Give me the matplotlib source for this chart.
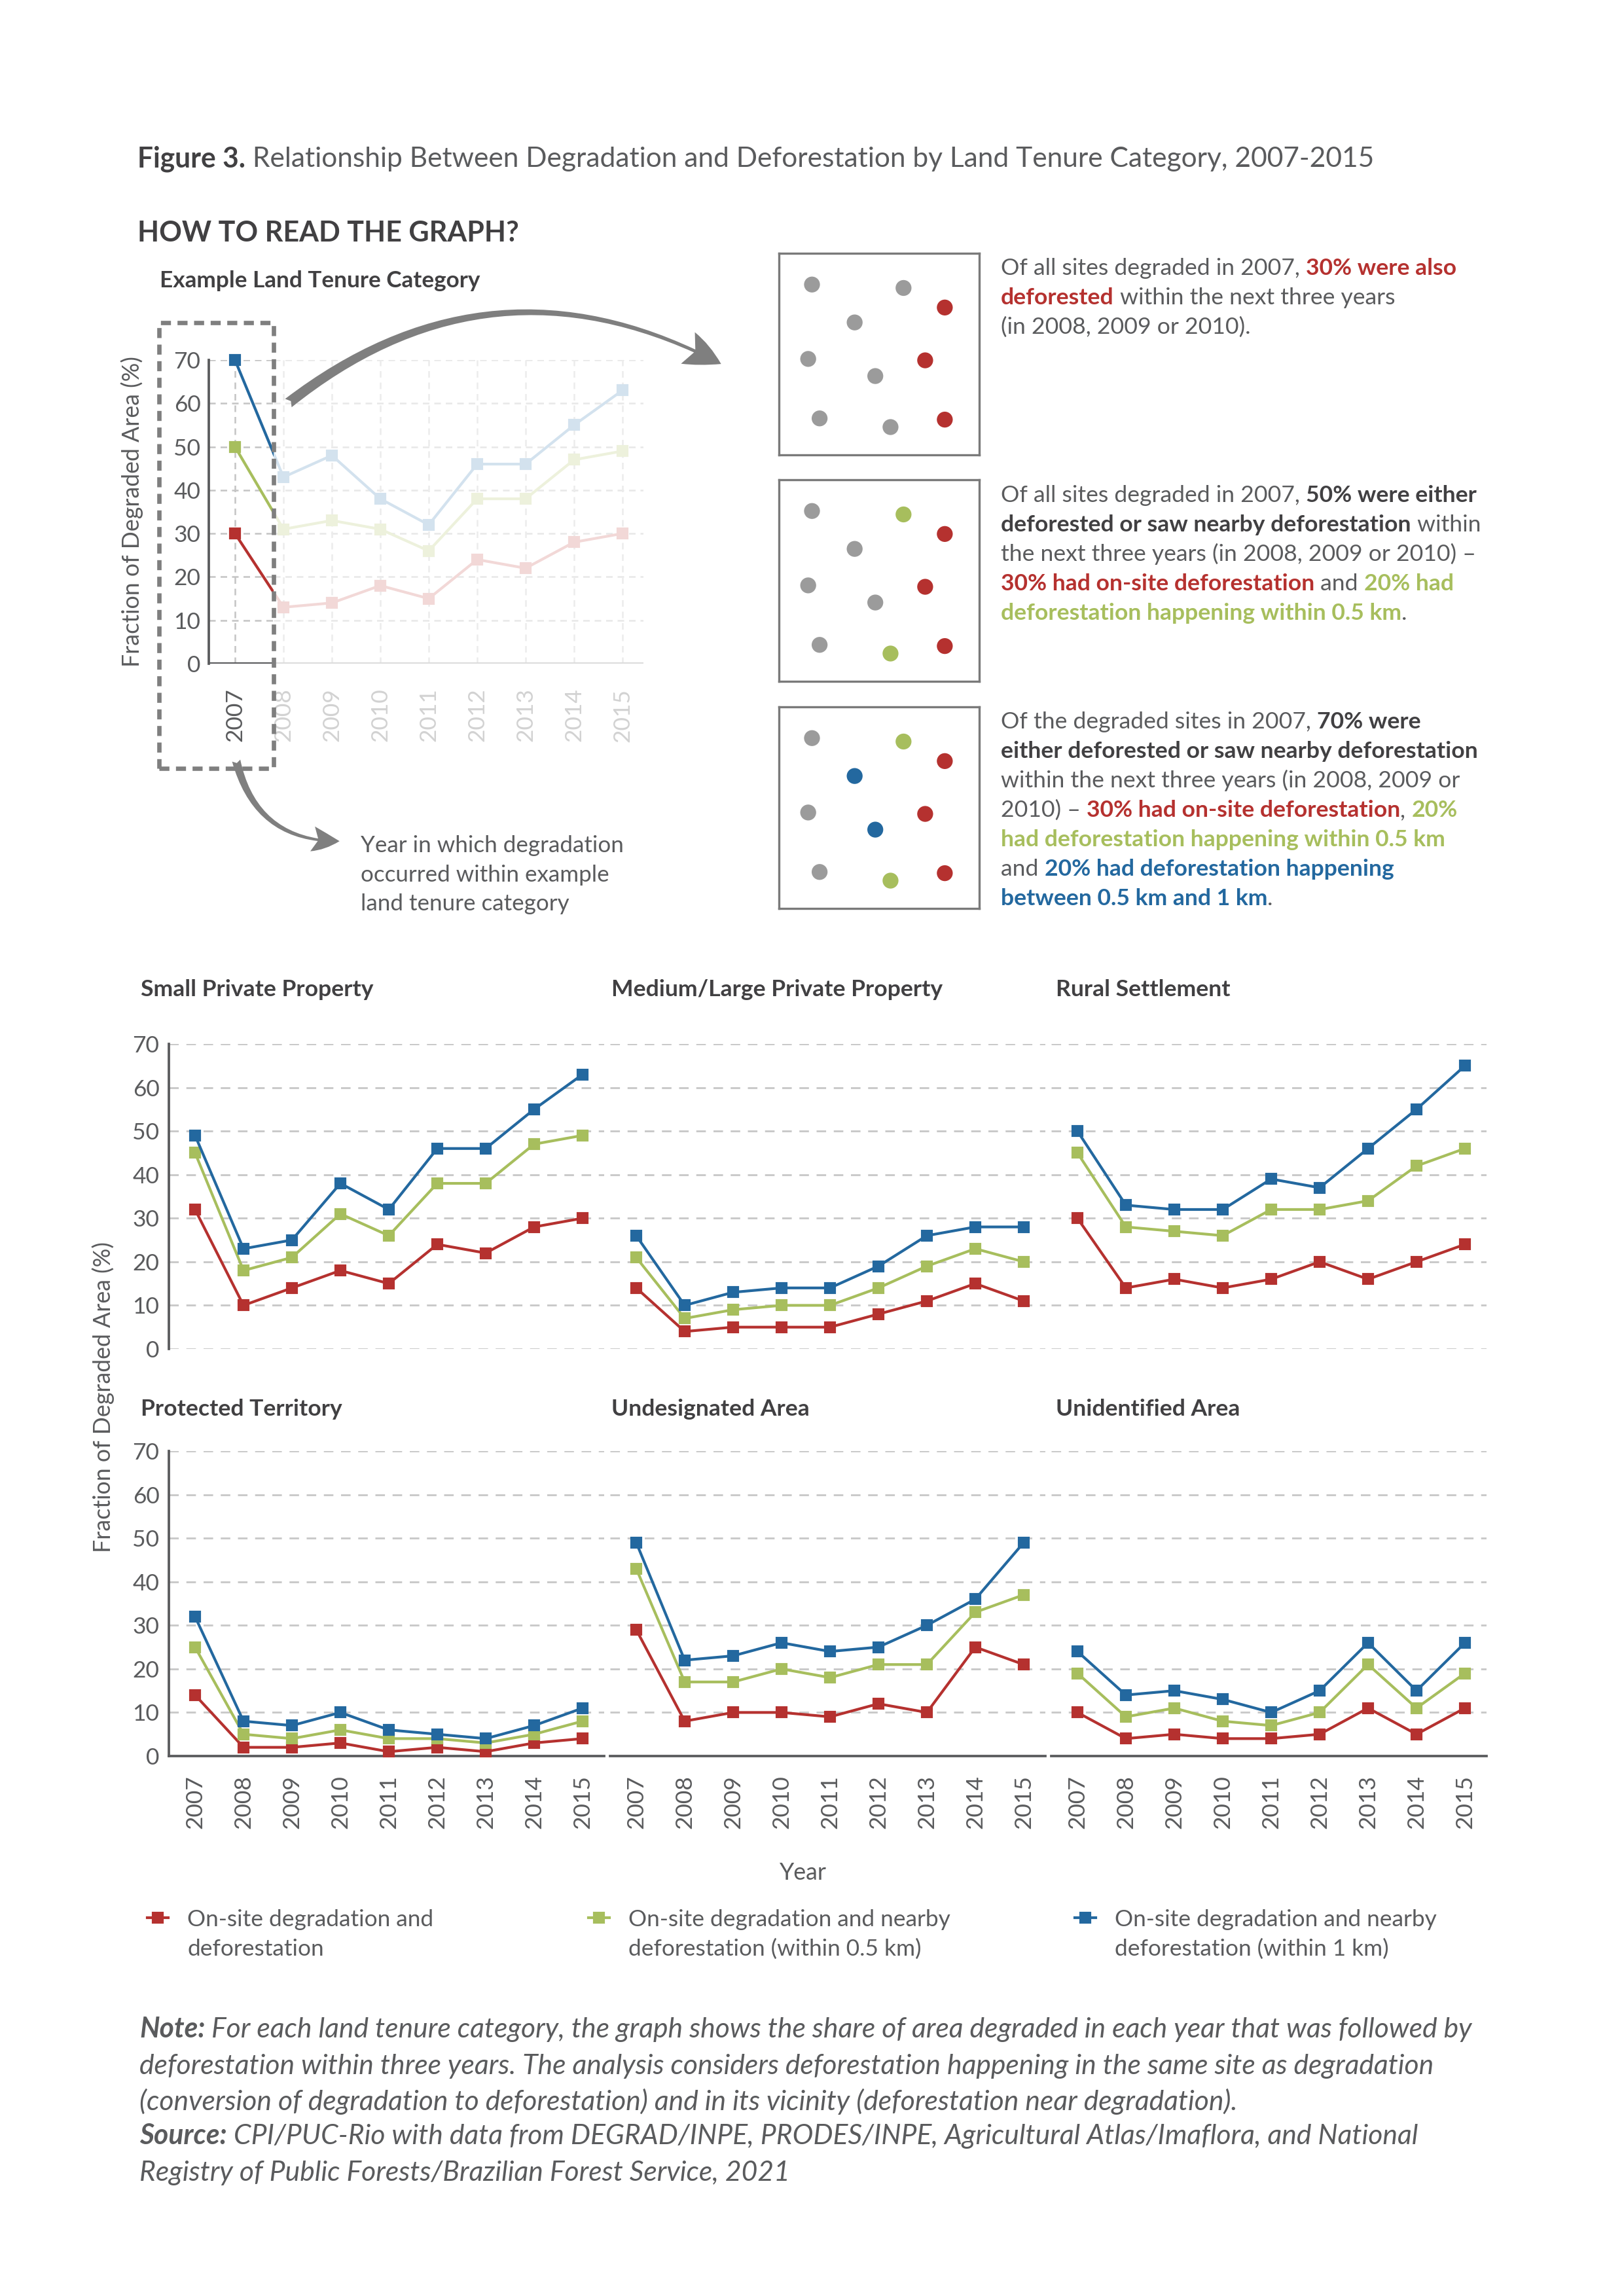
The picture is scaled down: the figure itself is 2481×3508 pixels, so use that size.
import matplotlib
matplotlib.use("Agg")
import matplotlib.pyplot as plt
from matplotlib.font_manager import FontProperties
from matplotlib.patches import FancyArrowPatch, Rectangle
from matplotlib.lines import Line2D

# ---------------- data ----------------
years = [2007, 2008, 2009, 2010, 2011, 2012, 2013, 2014, 2015]
year_labels = [str(y) for y in years]
y_ticks = [0, 10, 20, 30, 40, 50, 60, 70]

example_onsite = [30, 13, 14, 18, 15, 24, 22, 28, 30]
example_05km = [50, 31, 33, 31, 26, 38, 38, 47, 49]
example_1km = [70, 43, 48, 38, 32, 46, 46, 55, 63]

category_names = ["Small Private Property", "Medium/Large Private Property", "Rural Settlement",
                  "Protected Territory", "Undesignated Area", "Unidentified Area"]

small_onsite = [32, 10, 14, 18, 15, 24, 22, 28, 30]
small_05km = [45, 18, 21, 31, 26, 38, 38, 47, 49]
small_1km = [49, 23, 25, 38, 32, 46, 46, 55, 63]
medium_onsite = [14, 4, 5, 5, 5, 8, 11, 15, 11]
medium_05km = [21, 7, 9, 10, 10, 14, 19, 23, 20]
medium_1km = [26, 10, 13, 14, 14, 19, 26, 28, 28]
rural_onsite = [30, 14, 16, 14, 16, 20, 16, 20, 24]
rural_05km = [45, 28, 27, 26, 32, 32, 34, 42, 46]
rural_1km = [50, 33, 32, 32, 39, 37, 46, 55, 65]
protected_onsite = [14, 2, 2, 3, 1, 2, 1, 3, 4]
protected_05km = [25, 5, 4, 6, 4, 4, 3, 5, 8]
protected_1km = [32, 8, 7, 10, 6, 5, 4, 7, 11]
undesignated_onsite = [29, 8, 10, 10, 9, 12, 10, 25, 21]
undesignated_05km = [43, 17, 17, 20, 18, 21, 21, 33, 37]
undesignated_1km = [49, 22, 23, 26, 24, 25, 30, 36, 49]
unidentified_onsite = [10, 4, 5, 4, 4, 5, 11, 5, 11]
unidentified_05km = [19, 9, 11, 8, 7, 10, 21, 11, 19]
unidentified_1km = [24, 14, 15, 13, 10, 15, 26, 15, 26]

series_labels = [["On-site degradation and", "deforestation"],
                 ["On-site degradation and nearby", "deforestation (within 0.5 km)"],
                 ["On-site degradation and nearby", "deforestation (within 1 km)"]]

# illustrative site diagram (fractions of box)
dot_x = [0.165, 0.622, 0.378, 0.146, 0.481, 0.203, 0.557, 0.828, 0.730, 0.828]
dot_y = [0.155, 0.172, 0.343, 0.524, 0.609, 0.819, 0.862, 0.269, 0.531, 0.825]
dots_panel1 = ["g", "g", "g", "g", "g", "g", "g", "r", "r", "r"]
dots_panel2 = ["g", "G", "g", "g", "g", "g", "G", "r", "r", "r"]
dots_panel3 = ["g", "G", "b", "g", "b", "g", "G", "r", "r", "r"]

# ---------------- style ----------------
W, H = 2481, 3508
GRAY_TXT = '#5a5b5d'
DARK_TXT = '#414042'
RED = '#b5312f'
GREEN = '#a7be5d'
BLUE = '#23689f'
FADED = ['#f2d8d7', '#edf1dc', '#d3e2ee']
COLORS = [RED, GREEN, BLUE]
DOTCOL = {"g": '#9b9b9b', "r": RED, "G": GREEN, "b": BLUE}
FAM = ['Lato', 'DejaVu Sans']
REG = 'normal'

fig = plt.figure(figsize=(W / 300, H / 300), dpi=300)
fig.patch.set_facecolor('white')
R = fig.canvas.get_renderer()


def fx(x):
    return x / W


def fy(y):
    return 1 - y / H


def rect(left, top, w, h):
    return [left / W, 1 - (top + h) / H, w / W, h / H]


def fprop(size, weight=REG, style='normal'):
    return FontProperties(family=FAM, size=size, weight=weight, style=style)


def adv(s, size, weight=REG, style='normal'):
    p = fprop(size, weight, style)
    w1 = R.get_text_width_height_descent(s + '|', p, ismath=False)[0]
    w0 = R.get_text_width_height_descent('|', p, ismath=False)[0]
    return w1 - w0


def P(s, c=GRAY_TXT, wt=REG, st='normal'):
    return (s, c, wt, st)


def fit(parts, target, ref=10.0):
    w = sum(adv(s, ref, wt, st) for s, c, wt, st in parts)
    return ref * target / w


def rich(x, yc, parts, size):
    em = size * 300 / 72
    yb = yc + 0.36 * em
    for s, c, wt, st in parts:
        fig.text(fx(x), fy(yb), s, fontsize=size, color=c, fontweight=wt, fontstyle=st,
                 family=FAM, ha='left', va='baseline')
        x += adv(s, size, wt, st)


# ---------------- headings ----------------
title_parts = [P("Figure 3.", DARK_TXT, 'bold'),
               P(" Relationship Between Degradation and Deforestation by Land Tenure Category, 2007-2015", GRAY_TXT)]
rich(210, 240, title_parts, fit(title_parts, 1892))
how = [P("HOW TO READ THE GRAPH?", DARK_TXT, 'bold')]
rich(210, 353, how, fit(how, 583))
exl = [P("Example Land Tenure Category", DARK_TXT, 'bold')]
rich(244, 426, exl, fit(exl, 489))

tick_size = fit([P("70")], 41)
ylab_size = fit([P("Fraction of Degraded Area (%)")], 476)

# ---------------- example chart ----------------
PX = 74.0
x_lo = 2007 - 40 / PX
x_hi = 2007 + (983 - 359) / PX
box_edge = 2007 + (418 - 359) / PX
ex = fig.add_axes(rect(319, 550, 664, 464))
ex.set_xlim(x_lo, x_hi)
ex.set_ylim(0, 70)
for sp in ['top', 'right', 'bottom']:
    ex.spines[sp].set_visible(False)
ex.spines['left'].set_color(GRAY_TXT)
ex.spines['left'].set_linewidth(0.9)
ex.tick_params(length=0)
for yv in y_ticks[1:]:
    ex.hlines(yv, x_lo, box_edge, color='#c4c4c4', lw=0.6, ls=(0, (4, 3)), zorder=0)
    ex.hlines(yv, box_edge, x_hi, color='#e8e8e8', lw=0.6, ls=(0, (4, 3)), zorder=0)
for i, yr in enumerate(years):
    ex.vlines(yr, 0, 70, color='#c4c4c4' if i == 0 else '#ececec', lw=0.6, ls=(0, (4, 3)), zorder=0)
ex.hlines(0, x_lo, box_edge, color=GRAY_TXT, lw=1.0, zorder=1)
ex.hlines(0, box_edge, x_hi, color='#dcdcdc', lw=1.0, zorder=1)
ex_series = [example_onsite, example_05km, example_1km]
for k, vals in enumerate(ex_series):
    ex.plot(years, vals, color=FADED[k], lw=1.0, marker='s', ms=3.4, clip_on=False, zorder=2)
    seg, = ex.plot(years[:2], vals[:2], color=COLORS[k], lw=1.0, zorder=3)
    seg.set_clip_path(Rectangle((x_lo, -10), box_edge - x_lo, 100, transform=ex.transData))
    ex.plot(years[:1], vals[:1], color=COLORS[k], marker='s', ms=3.4, ls='none', clip_on=False, zorder=4)
ex.set_yticks(y_ticks)
ex.set_yticklabels([str(v) for v in y_ticks], fontsize=tick_size, color=GRAY_TXT, family=FAM, fontweight=REG)
ex.tick_params(axis='y', pad=3)
ex.set_xticks(years)
ex.set_xticklabels(year_labels, rotation=90, fontsize=tick_size, family=FAM, fontweight=REG)
ex.tick_params(axis='x', pad=9)
for i, lab in enumerate(ex.get_xticklabels()):
    lab.set_color(GRAY_TXT if i == 0 else '#d2d2d2')
fig.text(fx(202), fy(782), "Fraction of Degraded Area (%)", rotation=90, ha='center', va='center',
         fontsize=ylab_size, color=GRAY_TXT, family=FAM, fontweight=REG)

# dashed highlight box
fig.add_artist(Rectangle((fx(243), fy(1174)), (418 - 243) / W, (1174 - 493) / H, transform=fig.transFigure,
                         fill=False, ec='#7f7f7f', lw=1.6, ls=(0, (2.3, 1.5)), zorder=10))

# arrows
big = FancyArrowPatch((fx(434), fy(621)), (fx(1109), fy(560)), transform=fig.transFigure,
                      connectionstyle="arc3,rad=-0.33",
                      arrowstyle="fancy,head_length=0.45,head_width=0.42,tail_width=0.13",
                      mutation_scale=30, color='#7f7f7f', lw=0, zorder=10)
fig.add_artist(big)
small = FancyArrowPatch((fx(359), fy(1154)), (fx(527), fy(1285)), transform=fig.transFigure,
                        connectionstyle="arc3,rad=0.42",
                        arrowstyle="fancy,head_length=0.45,head_width=0.42,tail_width=0.14",
                        mutation_scale=22, color='#7f7f7f', lw=0, zorder=10)
fig.add_artist(small)

yw = [P("Year in which degradation")]
yw_size = fit(yw, 400)
rich(551, 1289, yw, yw_size)
rich(551, 1334, [P("occurred within example")], yw_size)
rich(551, 1378, [P("land tenure category")], yw_size)

# ---------------- site diagrams ----------------
box_tops = [387, 733, 1080]
for top, cols in zip(box_tops, [dots_panel1, dots_panel2, dots_panel3]):
    bx = fig.add_axes(rect(1190, top, 306, 308))
    bx.set_xlim(0, 1)
    bx.set_ylim(1, 0)
    bx.set_xticks([])
    bx.set_yticks([])
    for sp in bx.spines.values():
        sp.set_color('#7a7a7a')
        sp.set_linewidth(0.8)
    bx.scatter(dot_x, dot_y, s=34, c=[DOTCOL[c] for c in cols], linewidths=0)

b1 = [[P("Of all sites degraded in 2007, "), P("30% were also", RED, 'bold')],
      [P("deforested", RED, 'bold'), P(" within the next three years")],
      [P("(in 2008, 2009 or 2010).")]]
b2 = [[P("Of all sites degraded in 2007, "), P("50% were either", DARK_TXT, 'bold')],
      [P("deforested or saw nearby deforestation", DARK_TXT, 'bold'), P(" within")],
      [P("the next three years (in 2008, 2009 or 2010) \u2013")],
      [P("30% had on-site deforestation", RED, 'bold'), P(" and "), P("20% had", GREEN, 'bold')],
      [P("deforestation happening within 0.5 km", GREEN, 'bold'), P(".")]]
b3 = [[P("Of the degraded sites in 2007, "), P("70% were", DARK_TXT, 'bold')],
      [P("either deforested or saw nearby deforestation", DARK_TXT, 'bold')],
      [P("within the next three years (in 2008, 2009 or")],
      [P("2010) \u2013 "), P("30% had on-site deforestation", RED, 'bold'), P(", "), P("20%", GREEN, 'bold')],
      [P("had deforestation happening within 0.5 km", GREEN, 'bold')],
      [P("and "), P("20% had deforestation happening", BLUE, 'bold')],
      [P("between 0.5 km and 1 km", BLUE, 'bold'), P(".")]]
box_size = fit(b1[0], 695)
for lines, y0 in zip([b1, b2, b3], [407, 754, 1100]):
    for j, ln in enumerate(lines):
        rich(1529, y0 + j * 45, ln, box_size)

# ---------------- small multiples ----------------
cat_series = [[small_onsite, small_05km, small_1km],
              [medium_onsite, medium_05km, medium_1km],
              [rural_onsite, rural_05km, rural_1km],
              [protected_onsite, protected_05km, protected_1km],
              [undesignated_onsite, undesignated_05km, undesignated_1km],
              [unidentified_onsite, unidentified_05km, unidentified_1km]]
X2007 = [298, 972, 1646]
ROW_TOP = [1595, 2217]
TITLE_Y = [1509, 2150]
TITLE_X = [215, 934, 1613]
ptitle_size = fit([P("Medium/Large Private Property", DARK_TXT, 'bold')], 505)

for i, name in enumerate(category_names):
    r, c = divmod(i, 3)
    ax = fig.add_axes(rect(X2007[c] - 40, ROW_TOP[r], 665, 466))
    ax.set_xlim(2007 - 40 / PX, 2007 + 625 / PX)
    ax.set_ylim(0, 70)
    ax.set_axisbelow(True)
    for sp in ['top', 'right', 'left', 'bottom']:
        ax.spines[sp].set_visible(False)
    ax.set_yticks(y_ticks)
    ax.yaxis.grid(True, color='#c9c9c9', lw=0.7, ls=(0, (5, 4)))
    ax.tick_params(length=0)
    if c == 0:
        ax.spines['left'].set_visible(True)
        ax.spines['left'].set_color(GRAY_TXT)
        ax.spines['left'].set_linewidth(0.9)
        ax.set_yticklabels([str(v) for v in y_ticks], fontsize=tick_size, color=GRAY_TXT,
                           family=FAM, fontweight=REG)
        ax.tick_params(axis='y', pad=3.5)
    else:
        ax.set_yticklabels([])
    ax.set_xticks(years)
    if r == 1:
        ax.spines['bottom'].set_visible(True)
        ax.spines['bottom'].set_color(GRAY_TXT)
        ax.spines['bottom'].set_linewidth(0.9)
        ax.set_xticklabels(year_labels, rotation=90, fontsize=tick_size, color=GRAY_TXT,
                           family=FAM, fontweight=REG)
        ax.tick_params(axis='x', pad=7)
    else:
        ax.set_xticklabels([])
    for k, vals in enumerate(cat_series[i]):
        ax.plot(years, vals, color=COLORS[k], lw=1.0, marker='s', ms=3.4, clip_on=False, zorder=3)
    rich(TITLE_X[c], TITLE_Y[r], [P(name, DARK_TXT, 'bold')], ptitle_size)

fig.text(fx(158), fy(2135), "Fraction of Degraded Area (%)", rotation=90, ha='center', va='center',
         fontsize=ylab_size, color=GRAY_TXT, family=FAM, fontweight=REG)
fig.text(fx(1226), fy(2862), "Year", ha='center', va='center', fontsize=ylab_size, color=GRAY_TXT,
         family=FAM, fontweight=REG)

# ---------------- legend ----------------
leg_size = fit([P("On-site degradation and")], 376)
leg_mx = [241, 915, 1658]
leg_tx = [286, 960, 1703]
for k in range(3):
    fig.add_artist(Line2D([fx(leg_mx[k] - 16), fx(leg_mx[k]), fx(leg_mx[k] + 16)], [fy(2930)] * 3,
                          transform=fig.transFigure, color=COLORS[k], lw=1.0, marker='s', ms=3.4,
                          markevery=[1]))
    rich(leg_tx[k], 2930, [P(series_labels[k][0])], leg_size)
    rich(leg_tx[k], 2975, [P(series_labels[k][1])], leg_size)

# ---------------- note ----------------
note_lines = [[P("Note:", GRAY_TXT, 'bold', 'italic'),
               P(" For each land tenure category, the graph shows the share of area degraded in each year that was followed by", GRAY_TXT, REG, 'italic')],
              [P("deforestation within three years. The analysis considers deforestation happening in the same site as degradation", GRAY_TXT, REG, 'italic')],
              [P("(conversion of degradation to deforestation) and in its vicinity (deforestation near degradation).", GRAY_TXT, REG, 'italic')],
              [P("Source:", GRAY_TXT, 'bold', 'italic'),
               P(" CPI/PUC-Rio with data from DEGRAD/INPE, PRODES/INPE, Agricultural Atlas/Imaflora, and National", GRAY_TXT, REG, 'italic')],
              [P("Registry of Public Forests/Brazilian Forest Service, 2021", GRAY_TXT, REG, 'italic')]]
note_size = fit(note_lines[1], 1978)
for ln, yv in zip(note_lines, [3098, 3154, 3209, 3261, 3317]):
    rich(213, yv, ln, note_size)

fig.savefig("out.png", dpi=300, facecolor='white')
